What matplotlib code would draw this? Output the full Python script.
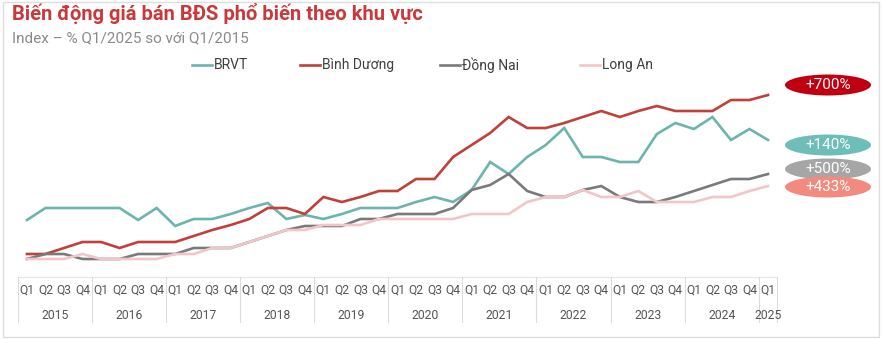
import matplotlib
matplotlib.use("Agg")
import matplotlib.pyplot as plt
from matplotlib.patches import Ellipse, Rectangle
from matplotlib.lines import Line2D
import matplotlib.transforms as mtransforms

plt.rcParams["font.family"] = ["Roboto", "DejaVu Sans"]

years = ["2015", "2016", "2017", "2018", "2019", "2020", "2021", "2022", "2023", "2024", "2025"]
quarters = ["Q1", "Q2", "Q3", "Q4"] * 10 + ["Q1"]

# chỉ số (đơn vị tương đối)
brvt = [50, 62, 62, 62, 62, 62, 50, 62, 44, 51, 51, 56, 62, 67, 51, 55, 51, 56, 62, 62,
        62, 68, 73, 68, 80, 108, 96, 113, 125, 142, 113, 113, 108, 108, 136, 147, 141, 153, 130, 141, 130]
binh_duong = [16, 16, 22, 28, 28, 22, 28, 28, 28, 34, 40, 45, 51, 62, 62, 56, 73, 68, 73, 79,
              79, 91, 91, 113, 125, 137, 153, 142, 142, 147, 153, 159, 153, 159, 164, 159, 159, 159, 170, 170, 175]
dong_nai = [11, 16, 16, 11, 11, 11, 16, 16, 16, 22, 22, 22, 28, 34, 40, 44, 44, 44, 51, 51,
            56, 56, 56, 62, 80, 85, 96, 79, 73, 73, 80, 84, 73, 68, 68, 73, 79, 85, 91, 91, 96]
long_an = [11, 11, 11, 16, 11, 11, 11, 11, 16, 16, 22, 22, 28, 34, 40, 40, 45, 45, 45, 51,
           51, 51, 51, 51, 56, 56, 56, 68, 73, 73, 80, 73, 73, 79, 68, 68, 68, 73, 73, 79, 84]

series = [("BRVT", brvt, "#6cb4ae"),
          ("Bình Dương", binh_duong, "#c0403a"),
          ("Đồng Nai", dong_nai, "#7a7a7a"),
          ("Long An", long_an, "#f2c6c8")]

pills = [("+700%", "#c00010", 85),
         ("+140%", "#6dbdb9", 145),
         ("+500%", "#a6a6a6", 169),
         ("+433%", "#f28a80", 187)]

W, H = 882, 339
fig = plt.figure(figsize=(W / 100, H / 100), dpi=100)
fig.patch.set_facecolor("white")

ax_left, ax_right = 17.7, 777.3
ax_top, ax_bot = 80, 277
ax = fig.add_axes([ax_left / W, 1 - ax_bot / H, (ax_right - ax_left) / W, (ax_bot - ax_top) / H])

x = list(range(len(quarters)))
for name, vals, col in series:
    ax.plot(x, vals, color=col, lw=1.9, label=name, solid_joinstyle="miter")

ax.set_xlim(-0.5, len(quarters) - 0.5)
ax.set_ylim(-7, 190)
for s in ax.spines.values():
    s.set_visible(False)
ax.set_yticks([])
ax.set_xticks(x)
ax.set_xticklabels(quarters, fontsize=8.7, color="#555555")
ax.tick_params(axis="x", length=0, pad=5)

# đường phân cách năm + chữ năm
trans = mtransforms.blended_transform_factory(ax.transData, ax.transAxes)
ax.plot([-0.5, len(quarters) - 0.5], [0, 0], transform=trans, color="#e6e6e6", lw=0.8, clip_on=False)
seps = [i * 4 - 0.5 for i in range(11)] + [len(quarters) - 0.5]
for s in seps:
    ax.plot([s, s], [0, -0.23], transform=trans, color="#dcdcdc", lw=0.8, clip_on=False)
for i, yr in enumerate(years):
    start = i * 4 - 0.5
    end = min(start + 4, len(quarters) - 0.5)
    ax.text((start + end) / 2, -0.195, yr, transform=trans, ha="center", va="center",
            fontsize=8.7, color="#555555")

# tiêu đề
fig.text(12 / W, 1 - 14 / H, "Biến động giá bán BĐS phổ biến theo khu vực", fontsize=14.5,
         fontweight="bold", color="#c9393b", va="center", ha="left")
fig.text(12 / W, 1 - 38 / H, "Index – % Q1/2025 so với Q1/2015", fontsize=11,
         color="#8a8a8a", va="center", ha="left")

# chú giải
leg_x = [192, 300, 440, 580]
for (name, vals, col), lx in zip(series, leg_x):
    fig.add_artist(Line2D([lx / W, (lx + 20) / W], [1 - 65 / H, 1 - 65 / H],
                          transform=fig.transFigure, color=col, lw=1.9))
    fig.text((lx + 22) / W, 1 - 65 / H, name, fontsize=10, color="#404040",
             ha="left", va="center")

# nhãn tròn bên phải
for txt, col, yc in pills:
    fig.add_artist(Ellipse((828 / W, 1 - yc / H), 86 / W, 21 / H, transform=fig.transFigure,
                           facecolor=col, edgecolor="none"))
    fig.text(828 / W, 1 - yc / H, txt, color="white", fontsize=11, ha="center", va="center")

# khung viền
fig.add_artist(Rectangle((3 / W, 2 / H), (W - 6) / W, (H - 4) / H, transform=fig.transFigure,
                         fill=False, edgecolor="#dddddd", lw=1))

fig.savefig("out.png", dpi=100)
